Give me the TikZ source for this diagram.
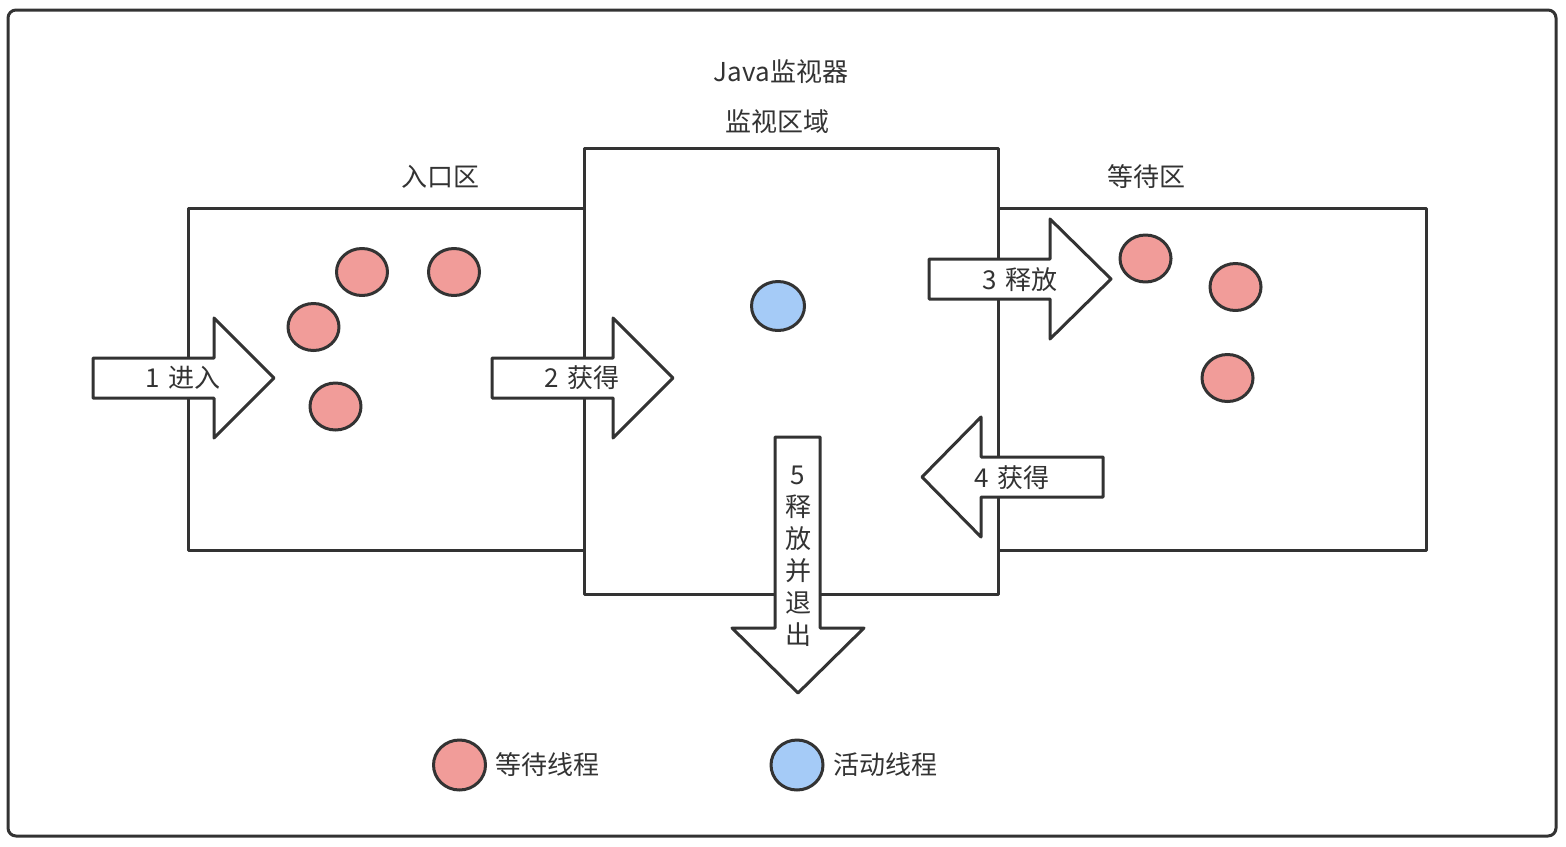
\documentclass[tikz,border=0pt]{standalone}
\usepackage{fontspec}
\setmainfont{Noto Sans CJK SC}
\usetikzlibrary{shapes.geometric}
\definecolor{ink}{HTML}{333333}
\definecolor{waitc}{HTML}{F19C99}
\definecolor{actc}{HTML}{A5CBF7}
\begin{document}
\begin{tikzpicture}[x=0.5pt,y=-0.5pt, line width=1.5pt, line join=round,
  zonebox/.style={draw=ink, fill=white},
  thr/.style={ellipse, draw=ink, minimum width=25.5pt, minimum height=23.5pt, inner sep=0pt},
  wthr/.style={thr, fill=waitc},
  athr/.style={thr, fill=actc, minimum width=26.5pt, minimum height=24.5pt},
  arrowshape/.style={draw=ink, fill=white},
  lbl/.style={text=ink, font=\fontsize{13}{16}\selectfont, inner sep=0pt},
]
\useasboundingbox (0,0) rectangle (1566,846);
% outer frame
\draw[ink, rounded corners=4pt] (8,10) rectangle (1556,836);

% zones
\draw[zonebox] (188,208) rectangle (584,550);
\draw[zonebox] (998,208) rectangle (1426,550);
\draw[zonebox] (584,148) rectangle (998,594);

% zone titles
\node[lbl] (title) at (781,72) {Java监视器};
\node[lbl] (monlbl) at (777,122) {监视区域};
\node[lbl] (entlbl) at (440,177) {入口区};
\node[lbl] (waitlbl) at (1146,177) {等待区};

% threads
\node[wthr] (e1) at (362,272) {};
\node[wthr] (e2) at (454,272) {};
\node[wthr] (e3) at (313.5,327) {};
\node[wthr] (e4) at (335.5,406.5) {};
\node[wthr] (w1) at (1145.5,258.5) {};
\node[wthr] (w2) at (1235.5,287) {};
\node[wthr] (w3) at (1227.5,378) {};
\node[athr] (m1) at (778,306) {};

% arrows
\draw[arrowshape] (93,358) -- (214,358) -- (214,318) -- (274,378) -- (214,438) -- (214,398) -- (93,398) -- cycle;
\draw[arrowshape] (492,358) -- (613,358) -- (613,318) -- (673,378) -- (613,438) -- (613,398) -- (492,398) -- cycle;
\draw[arrowshape] (929,259) -- (1050,259) -- (1050,219) -- (1111,279) -- (1050,339) -- (1050,299) -- (929,299) -- cycle;
\draw[arrowshape] (1103,457) -- (981,457) -- (981,417) -- (922,477) -- (981,537) -- (981,497) -- (1103,497) -- cycle;
\draw[arrowshape] (775,437) -- (820,437) -- (820,628) -- (864,628) -- (798,693) -- (732,628) -- (775,628) -- cycle;

% arrow labels
\node[lbl] (a1) at (183,378) {1\hspace{0.3em}进入};
\node[lbl] (a2) at (582,378) {2\hspace{0.3em}获得};
\node[lbl] (a3) at (1020,280) {3\hspace{0.3em}释放};
\node[lbl] (a4) at (1012,478) {4\hspace{0.3em}获得};
\node[lbl, align=center] (a5) at (798,556) {5\\释\\放\\并\\退\\出};

% legend
\node[thr, fill=waitc, minimum width=26pt, minimum height=25pt] (lw) at (459.5,765) {};
\node[lbl, anchor=west] (lwt) at (494,765) {等待线程};
\node[thr, fill=actc, minimum width=26pt, minimum height=25pt] (la) at (797,765) {};
\node[lbl, anchor=west] (lat) at (832,765) {活动线程};
\end{tikzpicture}
\end{document}
